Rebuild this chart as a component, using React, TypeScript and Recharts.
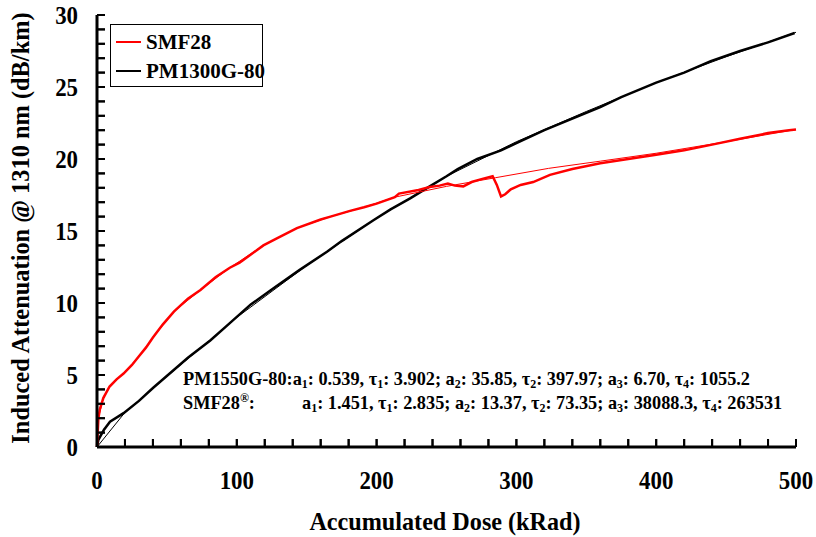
import React from 'react';
import { LineChart, Line, XAxis, YAxis, Legend, Label, ReferenceLine } from 'recharts';

// SMF28 measured data
const smfDose = [0, 1, 2, 4.5, 9, 14, 19, 25, 30, 35, 40, 47, 55, 65, 74, 85, 95, 102, 119, 129, 143, 160, 167, 181, 191, 200, 213, 216, 230, 238, 245, 251, 256, 262, 268, 275, 283, 286, 289, 292, 296, 303, 312, 324, 340, 360, 380, 400, 420, 440, 460, 480, 495, 500];
const smfAtten = [0, 2.0, 2.6, 3.4, 4.2, 4.7, 5.1, 5.7, 6.3, 6.9, 7.6, 8.5, 9.4, 10.3, 10.9, 11.8, 12.45, 12.8, 14.0, 14.5, 15.2, 15.8, 16.0, 16.4, 16.65, 16.9, 17.35, 17.6, 17.85, 18.05, 18.15, 18.3, 18.15, 18.1, 18.4, 18.6, 18.8, 18.2, 17.4, 17.55, 17.9, 18.2, 18.4, 18.9, 19.3, 19.7, 20.0, 20.3, 20.6, 21.0, 21.4, 21.8, 22.0, 22.05];
// SMF28 fit
const smfFitDose = [0, 1, 4.5, 9, 19, 30, 40, 55, 74, 95, 119, 143, 167, 191, 213, 250, 285, 323, 360, 400, 450, 500];
const smfFitAtten = [0, 2.0, 3.4, 4.2, 5.1, 6.3, 7.6, 9.4, 10.9, 12.45, 14.0, 15.2, 16.0, 16.65, 17.35, 18.1, 18.7, 19.35, 19.85, 20.4, 21.2, 22.05];
// PM1300G-80 measured data
const pmDose = [0, 1, 5, 9.3, 19, 30, 40, 52, 65, 81, 95, 110, 126, 145, 164.5, 175, 198, 210, 224, 238, 250, 258, 272, 289, 300, 320, 340, 360, 375, 400, 420, 439, 460, 480, 499];
const pmAtten = [0, 0.5, 1.2, 1.76, 2.35, 3.2, 4.1, 5.1, 6.2, 7.4, 8.6, 9.9, 11.0, 12.3, 13.56, 14.3, 15.76, 16.5, 17.27, 18.1, 18.8, 19.3, 20.0, 20.6, 21.1, 22.0, 22.8, 23.6, 24.3, 25.3, 26.0, 26.8, 27.5, 28.1, 28.75];
// PM1300G-80 fit
const pmFitDose = [0, 20, 50, 100, 150, 200, 250, 300, 350, 400, 450, 500];
const pmFitAtten = [0, 2.4, 4.9, 9.0, 12.6, 15.9, 18.8, 21.2, 23.3, 25.3, 27.1, 28.8];

const xTicks = [0, 20, 40, 60, 80, 100, 120, 140, 160, 180, 200, 220, 240, 260, 280, 300, 320, 340, 360, 380, 400, 420, 440, 460, 480, 500];
const xLabels = [0, 100, 200, 300, 400, 500];
const yTicks = [0, 1, 2, 3, 4, 5, 6, 7, 8, 9, 10, 11, 12, 13, 14, 15, 16, 17, 18, 19, 20, 21, 22, 23, 24, 25, 26, 27, 28, 29, 30];
const yLabels = [0, 5, 10, 15, 20, 25, 30];
// inward tick lengths expressed in axis units (about 8 px)
const xTickLen = 0.55;
const yTickLen = 5.7;

const seriesNames = ['SMF28', 'PM1300G-80'];
const seriesColors = ['#ff0000', '#000000'];

const toRows = (xs: number[], ys: number[]) => xs.map((d, i) => ({ dose: d, value: ys[i] }));
const smfData = toRows(smfDose, smfAtten);
const smfFit = toRows(smfFitDose, smfFitAtten);
const pmData = toRows(pmDose, pmAtten);
const pmFit = toRows(pmFitDose, pmFitAtten);

const FONT = '"Liberation Serif", "Times New Roman", serif';

const XTick = (props: any) => {
  const { x, y, payload } = props;
  const v = payload.value;
  return (
    <g>
      <line x1={x} x2={x} y1={y} y2={y - 8} stroke="#000" strokeWidth={2} />
      {xLabels.includes(v) && (
        <text x={x} y={y + 33} transform={`translate(${x},0) scale(0.88,1) translate(${-x},0)`} textAnchor="middle" dy="0.35em"
          fontSize={26} fontWeight="bold" fontFamily={FONT} fill="#000">{v}</text>
      )}
    </g>
  );
};

const YTick = (props: any) => {
  const { x, y, payload } = props;
  const v = payload.value;
  return (
    <g>
      <line x1={x} x2={x + 8} y1={y} y2={y} stroke="#000" strokeWidth={2} />
      {yLabels.includes(v) && (
        <text x={x - 19} y={y} transform={`translate(${x - 19},0) scale(0.88,1) translate(${19 - x},0)`} textAnchor="end" dy="0.35em"
          fontSize={26} fontWeight="bold" fontFamily={FONT} fill="#000">{v}</text>
      )}
    </g>
  );
};

const LegendBox = () => (
  <div style={{ position: 'relative', width: 153, height: 63, border: '1.5px solid #000', boxSizing: 'border-box', background: '#fff', fontFamily: FONT, fontWeight: 'bold', fontSize: 21, color: '#000' }}>
    {seriesNames.map((n, i) => (
      <div key={n} style={{ position: 'absolute', left: 5, top: 4 + i * 29, height: 26, display: 'flex', alignItems: 'center', whiteSpace: 'nowrap' }}>
        <span style={{ display: 'inline-block', width: 25, height: 2.5, background: seriesColors[i], marginRight: 5 }} />
        <span>{n}</span>
      </div>
    ))}
  </div>
);

const annStyle: React.CSSProperties = { position: 'absolute', fontFamily: FONT, fontWeight: 'bold', fontSize: 18.3, lineHeight: '18px', whiteSpace: 'nowrap', color: '#000' };
const sub: React.CSSProperties = { fontSize: 12, verticalAlign: '-3px', lineHeight: 0 };

const axisLine = { stroke: '#000', strokeWidth: 3 };

export default function App() {
  return (
    <div style={{ position: 'absolute', left: 0, top: 0, width: 816, height: 537, background: '#fff' }}>
      <LineChart width={816} height={537} margin={{ top: 15, right: 20, bottom: 0, left: 0 }}>
        <XAxis dataKey="dose" type="number" domain={[0, 500]} ticks={xTicks} interval={0}
          tickSize={0} tickMargin={0} tick={<XTick />} tickLine={false} height={90}
          axisLine={axisLine}>
          <Label content={() => (
            <text x={445} y={521} textAnchor="middle" dy="0.35em" fontSize={26} fontWeight="bold" fontFamily={FONT} fill="#000"
              transform="translate(445,0) scale(0.93,1) translate(-445,0)">Accumulated Dose (kRad)</text>
          )} />
        </XAxis>
        <XAxis xAxisId="top" orientation="top" type="number" domain={[0, 500]} height={0} tick={false} tickLine={false} axisLine={axisLine} />
        <YAxis dataKey="value" type="number" domain={[0, 30]} ticks={yTicks} interval={0}
          tickSize={0} tickMargin={0} tick={<YTick />} tickLine={false} width={97}
          axisLine={axisLine}>
          <Label content={() => (
            <text transform="translate(20,228) rotate(-90)" textAnchor="middle" dy="0.35em" fontSize={24.4} fontWeight="bold" fontFamily={FONT} fill="#000">Induced Attenuation @ 1310 nm (dB/km)</text>
          )} />
        </YAxis>
        <YAxis yAxisId="right" orientation="right" type="number" domain={[0, 30]} width={0} tick={false} tickLine={false} axisLine={axisLine} />
        {xTicks.map((t) => (
          <ReferenceLine key={`xt${t}`} segment={[{ x: t, y: 0 }, { x: t, y: xTickLen }]} stroke="#000" strokeWidth={2} ifOverflow="visible" />
        ))}
        {yTicks.map((t) => (
          <ReferenceLine key={`yt${t}`} segment={[{ x: 0, y: t }, { x: yTickLen, y: t }]} stroke="#000" strokeWidth={2} ifOverflow="visible" />
        ))}
        <Line data={pmFit} dataKey="value" stroke="#000" strokeWidth={1} dot={false} isAnimationActive={false} legendType="none" name="pmfit" />
        <Line data={pmData} dataKey="value" stroke="#000" strokeWidth={2.5} dot={false} isAnimationActive={false} name={seriesNames[1]} />
        <Line data={smfFit} dataKey="value" stroke="#ff0000" strokeWidth={1} dot={false} isAnimationActive={false} legendType="none" name="smffit" />
        <Line data={smfData} dataKey="value" stroke="#ff0000" strokeWidth={2.5} dot={false} isAnimationActive={false} name={seriesNames[0]} />
        <Legend layout="horizontal" verticalAlign="middle" align="center" content={<LegendBox />}
          wrapperStyle={{ position: 'absolute', left: 110, top: 24, width: 153, height: 63 }} />
      </LineChart>
      <div style={{ ...annStyle, left: 183, top: 370 }}>
        PM1550G-80:a<sub style={sub}>1</sub>: 0.539, τ<sub style={sub}>1</sub>: 3.902; a<sub style={sub}>2</sub>: 35.85, τ<sub style={sub}>2</sub>: 397.97; a<sub style={sub}>3</sub>: 6.70, τ<sub style={sub}>4</sub>: 1055.2
      </div>
      <div style={{ ...annStyle, left: 183, top: 394 }}>
        SMF28<sup style={{ fontSize: 12, verticalAlign: '7px', lineHeight: 0 }}>®</sup>:
      </div>
      <div style={{ ...annStyle, left: 302, top: 394 }}>
        a<sub style={sub}>1</sub>: 1.451, τ<sub style={sub}>1</sub>: 2.835; a<sub style={sub}>2</sub>: 13.37, τ<sub style={sub}>2</sub>: 73.35; a<sub style={sub}>3</sub>: 38088.3, τ<sub style={sub}>4</sub>: 263531
      </div>
    </div>
  );
}
